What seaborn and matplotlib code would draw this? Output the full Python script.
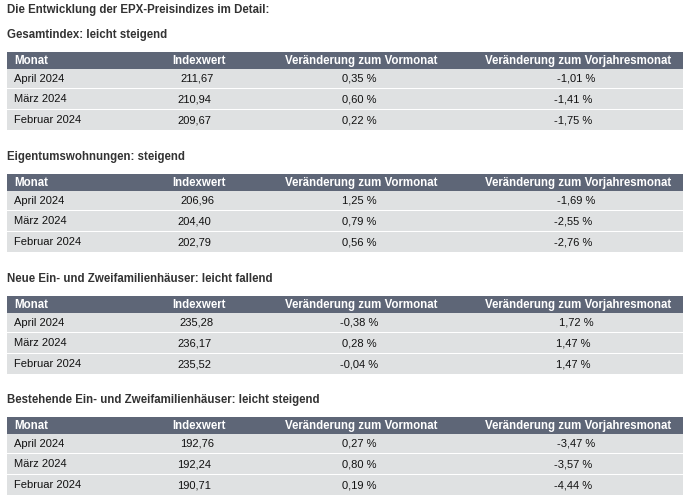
import matplotlib
matplotlib.use("Agg")
import matplotlib.pyplot as plt
import seaborn as sns

title = "Die Entwicklung der EPX-Preisindizes im Detail:"
section_titles = [
    "Gesamtindex: leicht steigend",
    "Eigentumswohnungen: steigend",
    "Neue Ein- und Zweifamilienhäuser: leicht fallend",
    "Bestehende Ein- und Zweifamilienhäuser: leicht steigend",
]
columns = ["Monat", "Indexwert", "Veränderung zum Vormonat", "Veränderung zum Vorjahresmonat"]
months = ["April 2024", "März 2024", "Februar 2024"]

index_values = [
    [211.67, 210.94, 209.67],
    [206.96, 204.40, 202.79],
    [235.28, 236.17, 235.52],
    [192.76, 192.24, 190.71],
]
change_mom = [
    [0.35, 0.60, 0.22],
    [1.25, 0.79, 0.56],
    [-0.38, 0.28, -0.04],
    [0.27, 0.80, 0.19],
]
change_yoy = [
    [-1.01, -1.41, -1.75],
    [-1.69, -2.55, -2.76],
    [1.72, 1.47, 1.47],
    [-3.47, -3.57, -4.44],
]


def de(v, pct=False):
    s = f"{v:.2f}".replace(".", ",")
    return s + " %" if pct else s


sns.set_theme(style="white")
plt.rcParams["font.family"] = ["Liberation Sans", "DejaVu Sans"]

W, H = 692, 503
fig = plt.figure(figsize=(W / 100, H / 100), dpi=100)
ax = fig.add_axes([0, 0, 1, 1])
ax.set_xlim(0, W)
ax.set_ylim(H, 0)
ax.axis("off")

header_bg = "#5e6677"
row_bg = "#dfe1e2"
title_col = "#333333"
fs = 8
fs_bold = 8.3

left, right = 7, 683
header_tops = [52, 174, 296, 417]
header_h = 17
row_tops = [69, 89, 110]
row_hs = [18.6, 19.6, 19.6]

col_x = [14, 199, 361, 578]
# first data row sits a few pixels right in the source
row_shift = [3, 0, 0]

ax.text(7, 10, title, fontsize=fs_bold, fontweight="bold", color=title_col, va="center", ha="left")

for s, top in enumerate(header_tops):
    ax.text(7, top - 17, section_titles[s], fontsize=fs_bold, fontweight="bold",
            color=title_col, va="center", ha="left")
    ax.barh(top + header_h / 2, right - left, height=header_h, left=left,
            color=header_bg, edgecolor="none", antialiased=False)
    for c, name in enumerate(columns):
        ax.text(col_x[c], top + header_h / 2 + 0.5, name, fontsize=fs_bold, fontweight="bold",
                color="white", va="center", ha="left" if c == 0 else "center")
    off = top - header_tops[0]
    for r in range(3):
        y0 = row_tops[r] + off
        yc = y0 + row_hs[r] / 2
        ax.barh(yc, right - left, height=row_hs[r], left=left, color=row_bg,
                edgecolor="none", antialiased=False)
        vals = [months[r], de(index_values[s][r]), de(change_mom[s][r], True),
                de(change_yoy[s][r], True)]
        for c, v in enumerate(vals):
            x = col_x[c] if c == 0 else col_x[c] - 5 + row_shift[r]
            if c == 2:
                x = col_x[c] - 2
            ax.text(x, yc + 0.5, v, fontsize=fs, color="#111111", va="center",
                    ha="left" if c == 0 else "center")

fig.savefig("out.png", dpi=100)
